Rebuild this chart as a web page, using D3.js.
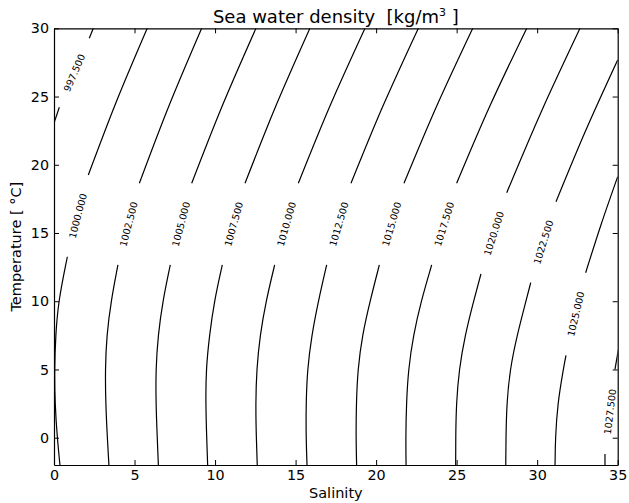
<!DOCTYPE html>
<html>
<head>
<meta charset="utf-8">
<script src="https://cdn.jsdelivr.net/npm/d3@7"></script>
<style>
  body { margin: 0; background: #fff; }
  text { font-family: "DejaVu Sans", sans-serif; }
</style>
</head>
<body>
<script>
// contour levels (kg/m3)
const levels = [997.5, 1000, 1002.5, 1005, 1007.5, 1010, 1012.5, 1015, 1017.5, 1020, 1022.5, 1025, 1027.5];

// part of each contour below its label, [salinity, temperature]
const lowerParts = [
  [[0.0, 23.06], [0.33, 24.21]],
  [[0.37, -2], [0.20, 0], [0.06, 2.5], [0.03, 5], [0.10, 7.5], [0.27, 10], [0.83, 13.26]],
  [[3.41, -2], [3.31, 0], [3.21, 2.5], [3.18, 5], [3.27, 7.5], [3.54, 10], [3.97, 12.66]],
  [[6.48, -2], [6.41, 0], [6.33, 2.5], [6.32, 5], [6.46, 7.5], [6.75, 10], [7.22, 12.66]],
  [[9.54, -2], [9.48, 0], [9.42, 2.5], [9.44, 5], [9.65, 7.5], [9.95, 10], [10.45, 12.66]],
  [[12.62, -2], [12.56, 0], [12.52, 2.5], [12.58, 5], [12.79, 7.5], [13.16, 10], [13.70, 12.66]],
  [[15.71, -2], [15.65, 0], [15.65, 2.5], [15.73, 5], [16.0, 7.5], [16.41, 10], [16.93, 12.66]],
  [[18.79, -2], [18.75, 0], [18.77, 2.5], [18.86, 5], [19.14, 7.5], [19.62, 10], [20.20, 12.66]],
  [[21.86, -2], [21.84, 0], [21.88, 2.5], [22.0, 5], [22.31, 7.5], [22.79, 10], [23.45, 12.66]],
  [[24.94, -2], [24.94, 0], [24.98, 2.5], [25.15, 5], [25.52, 7.5], [26.05, 10], [26.51, 12.0]],
  [[28.05, -2], [28.06, 0], [28.11, 2.5], [28.31, 5], [28.75, 7.5], [29.30, 10], [29.60, 11.36]],
  [[31.11, -2], [31.13, 0], [31.27, 2.5], [31.62, 5], [31.79, 6.04]],
  [[34.21, -2], [34.21, -1.19]]
];

// part of each contour above its label
const upperParts = [
  [[2.19, 29.27], [2.44, 30]],
  [[2.13, 19.25], [3.87, 24.62], [5.79, 30]],
  [[5.30, 18.64], [7.14, 24.32], [9.17, 30]],
  [[8.55, 18.64], [10.45, 24.32], [12.54, 30]],
  [[11.86, 18.64], [13.78, 24.32], [15.89, 30]],
  [[15.17, 18.64], [17.14, 24.32], [19.31, 30]],
  [[18.44, 18.64], [20.43, 24.32], [22.62, 30]],
  [[21.73, 18.64], [23.77, 24.32], [26.0, 30]],
  [[25.0, 18.64], [27.07, 24.32], [29.35, 30]],
  [[28.11, 17.95], [30.29, 23.98], [32.66, 30]],
  [[31.17, 17.29], [33.0, 22.47], [35.0, 27.68]],
  [[33.01, 12.09], [33.96, 15.59], [35.0, 19.13]],
  [[34.83, 5.01], [35.04, 6.43]]
];

const xTicks = [0, 5, 10, 15, 20, 25, 30, 35];
const yTicks = [0, 5, 10, 15, 20, 25, 30];

const w = 629, h = 503;
const pLeft = 54, pRight = 617.7, pTop = 28.3, pBottom = 465;

const svg = d3.select("body").append("svg")
  .attr("width", w)
  .attr("height", h);

const xScale = d3.scaleLinear().domain([0, 35]).range([pLeft, pRight]);
const yScale = d3.scaleLinear().domain([-2, 30]).range([pBottom, pTop]);

svg.append("clipPath").attr("id", "plot")
  .append("rect")
  .attr("x", pLeft).attr("y", pTop)
  .attr("width", pRight - pLeft).attr("height", pBottom - pTop);

// lower parts have more (noisier) points, so smooth them a little
const lowerLine = d3.line()
  .x(d => xScale(d[0]))
  .y(d => yScale(d[1]))
  .curve(d3.curveBasis);
const upperLine = d3.line()
  .x(d => xScale(d[0]))
  .y(d => yScale(d[1]))
  .curve(d3.curveNatural);

const lines = svg.append("g").attr("clip-path", "url(#plot)");
function drawPart(path) {
  lines.append("path")
    .attr("d", path)
    .attr("fill", "none")
    .attr("stroke", "#000")
    .attr("stroke-width", 1.2);
}
lowerParts.forEach(p => drawPart(lowerLine(p)));
upperParts.forEach(p => drawPart(upperLine(p)));

// inline labels sit in the gap between the two parts
levels.forEach((lev, i) => {
  const a = lowerParts[i][lowerParts[i].length - 1];
  const b = upperParts[i][0];
  const ax = xScale(a[0]), ay = yScale(a[1]);
  const bx = xScale(b[0]), by = yScale(b[1]);
  const ang = Math.atan2(by - ay, bx - ax) * 180 / Math.PI;
  svg.append("text")
    .attr("transform", "translate(" + ((ax + bx) / 2) + "," + ((ay + by) / 2) + ") rotate(" + ang + ")")
    .attr("text-anchor", "middle")
    .attr("dominant-baseline", "central")
    .attr("font-size", "9.6px")
    .text(lev.toFixed(3));
});

// axes, ticks pointing inward on all four sides
const xAxis = d3.axisBottom(xScale).tickValues(xTicks).tickSizeInner(-5).tickSizeOuter(0).tickPadding(5);
const yAxis = d3.axisLeft(yScale).tickValues(yTicks).tickSizeInner(-5).tickSizeOuter(0).tickPadding(5);
const xTop = d3.axisTop(xScale).tickValues(xTicks).tickSizeInner(-5).tickSizeOuter(0).tickFormat("");
const yRight = d3.axisRight(yScale).tickValues(yTicks).tickSizeInner(-5).tickSizeOuter(0).tickFormat("");

svg.append("g").attr("transform", "translate(0," + pBottom + ")").call(xAxis);
svg.append("g").attr("transform", "translate(" + pLeft + ",0)").call(yAxis);
svg.append("g").attr("transform", "translate(0," + pTop + ")").call(xTop);
svg.append("g").attr("transform", "translate(" + pRight + ",0)").call(yRight);

svg.selectAll(".tick text").attr("font-size", "14.3px").attr("font-family", "DejaVu Sans").attr("fill", "#000");
svg.selectAll(".tick line").attr("stroke", "#000").attr("stroke-width", 1);
svg.selectAll(".domain").attr("stroke", "#000").attr("stroke-width", 1.2);

// titles
const title = svg.append("text")
  .attr("x", (pLeft + pRight) / 2)
  .attr("y", 22.5)
  .attr("text-anchor", "middle")
  .attr("font-size", "18px")
  .style("white-space", "pre");
title.append("tspan").text("Sea water density  [kg/m");
title.append("tspan").attr("font-size", "11px").attr("dy", -7).text("3");
title.append("tspan").attr("dy", 7).text(" ]");

svg.append("text")
  .attr("x", (pLeft + pRight) / 2)
  .attr("y", 497.5)
  .attr("text-anchor", "middle")
  .attr("font-size", "14.5px")
  .text("Salinity");

svg.append("text")
  .attr("transform", "translate(21," + ((pTop + pBottom) / 2) + ") rotate(-90)")
  .attr("text-anchor", "middle")
  .attr("font-size", "14.5px")
  .style("white-space", "pre")
  .text("Temperature [ °C]");
</script>
</body>
</html>
